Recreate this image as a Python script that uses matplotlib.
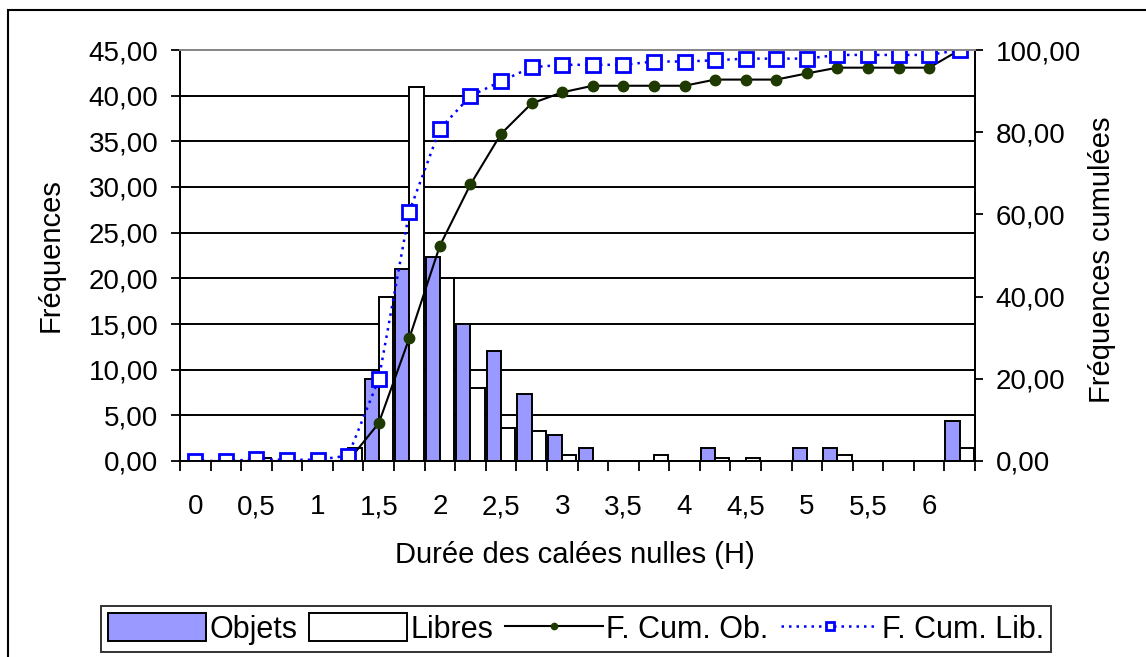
import matplotlib
matplotlib.use("Agg")
import matplotlib.pyplot as plt
from matplotlib.patches import Rectangle
import numpy as np

plt.rcParams['font.family'] = ['Liberation Sans', 'DejaVu Sans']

# classes de durée (H), pas de 0,25
durees = ['0', '0,25', '0,5', '0,75', '1', '1,25', '1,5', '1,75', '2', '2,25', '2,5', '2,75', '3',
          '3,25', '3,5', '3,75', '4', '4,25', '4,5', '4,75', '5', '5,25', '5,5', '5,75', '6', '6,25']

# fréquences (%)
objets = [0, 0, 0, 0, 0, 0, 9.0, 21.0, 22.3, 15.0, 12.0, 7.3, 2.9,
          1.4, 0, 0, 0, 1.4, 0, 0, 1.4, 1.4, 0, 0, 0, 4.4]
libres = [0, 0, 0.35, 0, 0, 1.4, 18.0, 41.0, 20.0, 8.0, 3.6, 3.3, 0.7,
          0, 0, 0.7, 0, 0.3, 0.3, 0, 0, 0.7, 0, 0, 0, 1.4]

# fréquences cumulées (%)
cum_ob = [0, 0, 0, 0, 0, 0, 9.2, 29.9, 52.4, 67.3, 79.6, 87.0, 89.7,
          91.3, 91.3, 91.3, 91.3, 92.8, 92.8, 92.8, 94.3, 95.7, 95.7, 95.7, 95.7, 100.0]
cum_lib = [0, 0, 0.4, 0.3, 0.3, 1.3, 19.9, 60.7, 80.8, 88.8, 92.4, 95.8, 96.4,
           96.4, 96.4, 97.2, 97.2, 97.5, 97.9, 97.9, 97.9, 98.8, 98.8, 98.8, 98.8, 100.0]

x = np.arange(len(durees))
w = 0.465

fig = plt.figure(figsize=(11.46, 6.57), dpi=100)
ax = fig.add_axes([180/1146, 1-461/657, 795/1146, 411/657])
ax2 = ax.twinx()

ax.bar(x - w/2, objets, w, color='#9999FF', edgecolor='black', linewidth=1.4, label='Objets')
ax.bar(x + w/2, libres, w, color='white', edgecolor='black', linewidth=1.4, label='Libres')

ax2.plot(x, cum_ob, color='black', linewidth=1.5, marker='o', markersize=7.5,
         markerfacecolor='#1E3A00', markeredgecolor='#1E3A00', label='F. Cum. Ob.')
ax2.plot(x, cum_lib, color='#0000FF', linewidth=1.8, linestyle=(0, (1, 2)), marker='s',
         markersize=9.5, markerfacecolor='white', markeredgecolor='#0000FF', markeredgewidth=2,
         label='F. Cum. Lib.')

ax.set_xlim(-0.5, len(durees) - 0.5)
ax.set_ylim(0, 45)
ax2.set_ylim(0, 100)

# axe gauche
yt = np.arange(0, 50, 5)
ax.set_yticks(yt)
ax.set_yticklabels([f'{v:.2f}'.replace('.', ',') for v in yt])
ax.tick_params(axis='y', direction='inout', length=13, width=1.3, pad=9, labelsize=20)
ax.grid(axis='y', color='black', linewidth=1.4)
ax.yaxis.get_major_ticks()[-1].gridline.set_color('#888888')
ax.set_axisbelow(True)

# axe droit
yt2 = np.arange(0, 120, 20)
ax2.set_yticks(yt2)
ax2.set_yticklabels([f'{v:.2f}'.replace('.', ',') for v in yt2])
ax2.tick_params(axis='y', direction='out', length=6, width=1.3, pad=9, labelsize=20)

# axe des x : étiquettes toutes les 0,5 h, graduations entre classes
ax.set_xticks(x[::2])
ax.set_xticklabels(durees[::2])
ax.set_xticks(np.arange(-0.5, len(durees)), minor=True)
ax.tick_params(axis='x', which='major', length=0, pad=24, labelsize=20)
ax.tick_params(axis='x', which='minor', direction='out', length=7, width=1.3)

for a in (ax, ax2):
    for s in ('left', 'right', 'bottom'):
        a.spines[s].set_linewidth(1.4)
        a.spines[s].set_color('black')
    a.spines['top'].set_color('#888888')
    a.spines['top'].set_linewidth(1.4)

ax.set_ylabel('Fréquences', fontsize=21)
ax.yaxis.set_label_coords(-0.145, 0.5)
ax2.set_ylabel('Fréquences cumulées', fontsize=21)
ax2.yaxis.set_label_coords(1.142, 0.49)
ax.set_xlabel('Durée des calées nulles (H)', fontsize=21)
ax.xaxis.set_label_coords(0.497, -0.195)

h1, l1 = ax.get_legend_handles_labels()
h2, l2 = ax2.get_legend_handles_labels()
leg = fig.legend(h1 + h2, l1 + l2, loc='center', bbox_to_anchor=(576/1146, 1-629/657),
                 ncol=4, fontsize=22, frameon=True, fancybox=False, handlelength=3.2,
                 handleheight=1.0, handletextpad=0.1, columnspacing=0.4, borderpad=0.25,
                 markerscale=0.6)
leg.get_frame().set_edgecolor('black')
leg.get_frame().set_linewidth(1.4)

# cadre du graphique
fig.patches.append(Rectangle((8/1146, -0.1), 1.2, 1.1 - 10/657, transform=fig.transFigure,
                             fill=False, edgecolor='black', linewidth=1.5))

fig.savefig('out.png', dpi=100)
